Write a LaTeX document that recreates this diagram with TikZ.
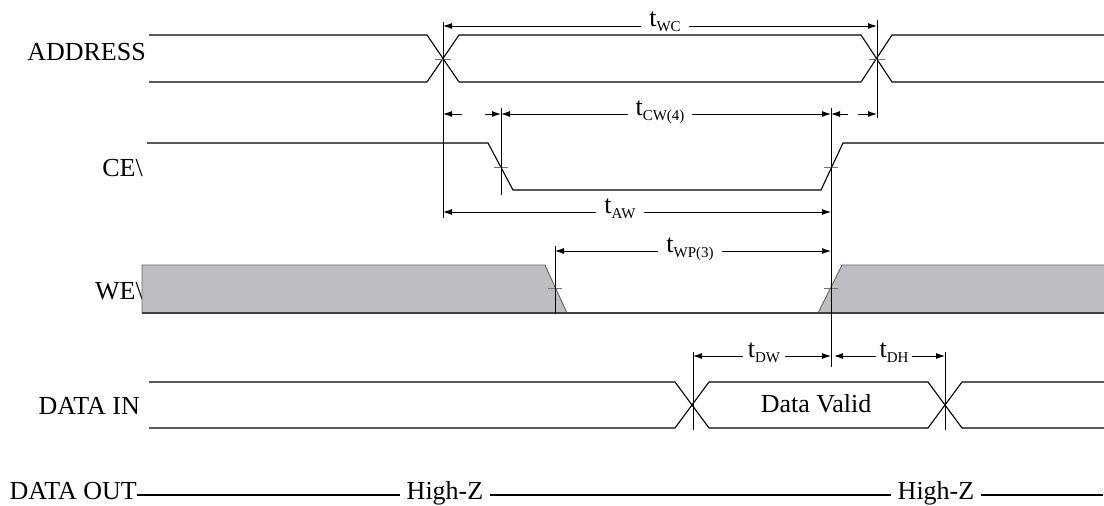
\documentclass[tikz,border=0pt]{standalone}
\usepackage{fontspec}
\setmainfont{Liberation Serif}
\usetikzlibrary{arrows.meta}
\definecolor{weGray}{RGB}{189,190,194}
\definecolor{weEdge}{RGB}{100,100,100}
\newcommand\tsub[1]{t\raisebox{-5pt}{\fontsize{15}{15}\selectfont #1}}
\begin{document}
\begin{tikzpicture}[x=1pt,y=-1pt,
  sig/.style={line width=1.1pt, black},
  refl/.style={line width=0.9pt, black},
  dim/.style={line width=0.9pt, {Latex[length=9pt,width=6pt]}-{Latex[length=9pt,width=6pt]}},
  half/.style={line width=0.9pt, -{Latex[length=9pt,width=6pt]}},
  tick/.style={line width=0.9pt, black!55},
  siglbl/.style={font=\fontsize{26}{26}\selectfont, anchor=base east, inner sep=0pt},
  tlbl/.style={font=\fontsize{26}{26}\selectfont, anchor=base, fill=white, inner xsep=8pt, inner ysep=0pt},
  hz/.style={font=\fontsize{26}{26}\selectfont, anchor=base, inner xsep=7pt, inner ysep=0pt},
]
\useasboundingbox[fill=white] (0,0) rectangle (1104,506);

% ---------------- signal labels
\node[siglbl] (lAddr) at (146,60) {ADDRESS};
\node[siglbl] (lCE) at (143,176) {CE\textbackslash};
\node[siglbl] (lWE) at (143,299) {WE\textbackslash};
\node[siglbl] (lDI) at (140,414) {DATA IN};
\node[siglbl] (lDO) at (137,499) {DATA OUT};

% ---------------- ADDRESS
\draw[sig] (149,35) -- (427,35) -- (459,82) -- (861,82) -- (892,35) -- (1104,35);
\draw[sig] (149,82) -- (427,82) -- (459,35) -- (861,35) -- (892,82) -- (1104,82);
\draw[tick] (435,59) -- (451,59);
\draw[tick] (869,59) -- (885,59);

% ---------------- CE
\draw[sig] (147,143) -- (488,143) -- (513,190) -- (821,190) -- (843,143) -- (1104,143);
\draw[tick] (494,167) -- (508,167);
\draw[tick] (824,167) -- (838,167);

% ---------------- WE
\fill[weGray] (142,265) -- (545,265) -- (567,313) -- (142,313) -- cycle;
\fill[weGray] (842,265) -- (1104,265) -- (1104,313) -- (818,313) -- cycle;
\draw[line width=0.9pt, weEdge] (142,313) -- (142,265) -- (545,265) -- (567,313);
\draw[line width=0.9pt, weEdge] (818,313) -- (842,265) -- (1104,265);
\draw[sig, black!75] (142,313) -- (1104,313);
\draw[tick] (548,288) -- (562,288);
\draw[tick] (824,288) -- (838,288);

% ---------------- DATA IN
\draw[sig] (149,382) -- (675,382) -- (709,428) -- (928,428) -- (962,382) -- (1104,382);
\draw[sig] (149,428) -- (675,428) -- (709,382) -- (928,382) -- (962,428) -- (1104,428);
\node[font=\fontsize{26}{26}\selectfont, anchor=base, inner sep=0pt] (dv) at (816,412) {Data Valid};

% ---------------- DATA OUT
\coordinate (doY) at (0,495);
\coordinate (doEnd) at (1103,495);
\node[hz] (hz1) at (445,499) {High-Z};
\node[hz] (hz2) at (936,499) {High-Z};
\draw[sig] (lDO.east |- doY) -- (hz1.west |- doY);
\draw[sig] (hz1.east |- doY) -- (hz2.west |- doY);
\draw[sig] (hz2.east |- doY) -- (doEnd);

% ---------------- reference verticals
\coordinate (v443t) at (443,22);  \coordinate (v443b) at (443,218);
\coordinate (v877t) at (877,20);  \coordinate (v877b) at (877,118);
\coordinate (v501t) at (501,108); \coordinate (v501b) at (501,195);
\coordinate (v831t) at (831,108); \coordinate (v831b) at (831,367);
\coordinate (v555t) at (555,246); \coordinate (v555b) at (555,314);
\coordinate (v693t) at (693,352); \coordinate (v693b) at (693,430);
\coordinate (v945t) at (945,352); \coordinate (v945b) at (945,430);
\foreach \v in {443,877,501,831,555,693,945}
  \draw[refl] (v\v t) -- (v\v b);

% ---------------- timing arrows
\coordinate (wcL) at (443,26); \coordinate (wcR) at (877,26);
\draw[dim] (wcL) -- (wcR);
\node[tlbl] (twc) at (665,27) {\tsub{WC}};

\coordinate (cwA) at (443,114); \coordinate (cwA2) at (462,114);
\coordinate (cwB2) at (485,114); \coordinate (cwB) at (501,114);
\coordinate (cwC) at (831,114); \coordinate (cwC2) at (848,114);
\coordinate (cwD2) at (858,114); \coordinate (cwD) at (877,114);
\draw[half] (cwA2) -- (cwA);
\draw[half] (cwB2) -- (cwB);
\draw[dim] (cwB) -- (cwC);
\draw[half] (cwC2) -- (cwC);
\draw[half] (cwD2) -- (cwD);
\node[tlbl] (tcw) at (660,115) {\tsub{CW(4)}};

\coordinate (awL) at (443,212); \coordinate (awR) at (831,212);
\draw[dim] (awL) -- (awR);
\node[tlbl] (taw) at (620,213) {\tsub{AW}};

\coordinate (wpL) at (555,251); \coordinate (wpR) at (831,251);
\draw[dim] (wpL) -- (wpR);
\node[tlbl] (twp) at (690,252) {\tsub{WP(3)}};

\coordinate (dwL) at (693,356); \coordinate (dwR) at (831,356);
\draw[dim] (dwL) -- (dwR);
\node[tlbl, inner xsep=5pt] (tdw) at (764,357) {\tsub{DW}};

\coordinate (dhL) at (834,356); \coordinate (dhR) at (945,356);
\draw[dim] (dhL) -- (dhR);
\node[tlbl, inner xsep=4pt] (tdh) at (894,357) {\tsub{DH}};
\end{tikzpicture}
\end{document}
